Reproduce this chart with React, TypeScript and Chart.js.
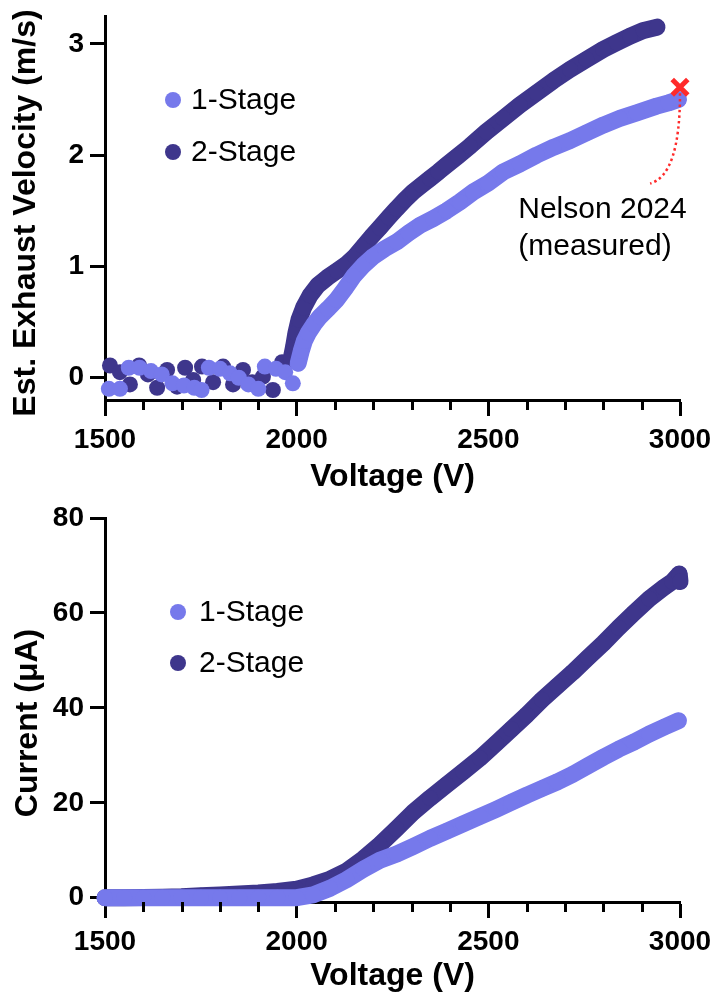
import { useEffect, useRef } from "react";
import { Chart, registerables } from "chart.js";

Chart.register(...registerables);

const FONT = '"Liberation Sans", Arial, Helvetica, sans-serif';
const LIGHT = "#7679EB";
const DARK = "#3E368C";
const RED = "#FF2A2A";

const seriesNames = ["1-Stage", "2-Stage"];
const xMajorTicks = [1500, 2000, 2500, 3000];
const xMinorTicks = [1600, 1700, 1800, 1900, 2100, 2200, 2300, 2400, 2600, 2700, 2800, 2900];
const velocityTicks = [0, 1, 2, 3];
const currentTicks = [0, 20, 40, 60, 80];

// Top panel: estimated exhaust velocity (m/s) vs voltage (V)
const velocity1Stage: [number, number][] = [
  [1510, -0.10], [1539, -0.10], [1562, 0.09], [1590, 0.09], [1620, 0.06], [1648, 0.03],
  [1676, -0.05], [1706, -0.07], [1733, -0.09], [1752, -0.11], [1771, 0.09], [1800, 0.08],
  [1826, 0.04], [1849, 0.00], [1874, -0.06], [1900, -0.10], [1917, 0.10], [1946, 0.08],
  [1970, 0.05], [1990, -0.05],
  [2004, 0.13], [2012, 0.24], [2020, 0.33], [2030, 0.40], [2045, 0.48], [2061, 0.55],
  [2082, 0.62], [2104, 0.70], [2126, 0.80], [2148, 0.91], [2174, 1.01], [2200, 1.09],
  [2230, 1.16], [2261, 1.22], [2292, 1.30], [2322, 1.37], [2356, 1.43], [2391, 1.50],
  [2426, 1.58], [2461, 1.67], [2500, 1.75], [2539, 1.85], [2582, 1.92], [2626, 2.00],
  [2670, 2.07], [2713, 2.13], [2756, 2.20], [2800, 2.27], [2843, 2.33], [2887, 2.38],
  [2939, 2.44], [2970, 2.47], [2996, 2.50],
];
const velocity2Stage: [number, number][] = [
  [1513, 0.11], [1539, 0.05], [1565, -0.06], [1589, 0.11], [1612, 0.03], [1636, -0.09],
  [1662, 0.07], [1688, -0.08], [1709, 0.09], [1730, -0.02], [1753, 0.10], [1782, -0.04],
  [1808, 0.10], [1834, -0.06], [1860, 0.07], [1884, -0.04], [1912, 0.01], [1938, -0.11],
  [1962, 0.14],
  [1985, 0.16], [1992, 0.28], [1998, 0.40], [2006, 0.52], [2018, 0.63], [2035, 0.74],
  [2055, 0.83], [2080, 0.90], [2105, 0.96], [2130, 1.02], [2152, 1.09], [2174, 1.18],
  [2196, 1.27], [2217, 1.35], [2240, 1.44], [2261, 1.52], [2283, 1.60], [2304, 1.67],
  [2326, 1.73], [2348, 1.79], [2370, 1.85], [2391, 1.91], [2420, 1.99], [2452, 2.08],
  [2495, 2.21], [2539, 2.33], [2582, 2.45], [2626, 2.56], [2670, 2.67], [2713, 2.77],
  [2756, 2.86], [2800, 2.95], [2835, 3.01], [2870, 3.07], [2905, 3.12], [2940, 3.15],
];
const nelson2024Measured: [number, number][] = [[3000, 2.61]];
const nelsonLabel = ["Nelson 2024", "(measured)"];

// Bottom panel: current (µA) vs voltage (V)
const current1Stage: [number, number][] = [
  [1500, 0], [1550, 0], [1600, 0], [1650, 0], [1700, 0], [1750, 0], [1800, 0], [1850, 0],
  [1900, 0], [1950, 0], [2000, 0], [2043, 0.6], [2087, 2.0], [2130, 3.8], [2174, 6.0],
  [2217, 7.9], [2261, 9.2], [2304, 10.8], [2348, 12.5], [2391, 14.0], [2435, 15.6],
  [2478, 17.1], [2520, 18.6], [2560, 20.1], [2600, 21.6], [2640, 23.0], [2680, 24.4],
  [2720, 26.0], [2760, 27.8], [2800, 29.6], [2840, 31.3], [2880, 32.8], [2920, 34.5],
  [2960, 36.0], [2996, 37.3],
];
const current2Stage: [number, number][] = [
  [1500, 0], [1550, 0], [1600, 0.05], [1650, 0.1], [1700, 0.2], [1750, 0.4], [1800, 0.6],
  [1850, 0.8], [1900, 1.0], [1950, 1.3], [2000, 1.8], [2043, 2.7], [2087, 3.9], [2130, 5.6],
  [2174, 8.2], [2217, 11.2], [2260, 14.5], [2304, 18.0], [2348, 21.0], [2391, 23.8],
  [2435, 26.6], [2478, 29.4], [2520, 32.5], [2560, 35.5], [2600, 38.5], [2640, 41.7],
  [2680, 44.6], [2720, 47.5], [2760, 50.6], [2800, 53.6], [2840, 56.9], [2880, 60.0],
  [2920, 63.0], [2957, 65.3], [2980, 66.6], [2998, 68.2], [3000, 66.6],
];

const toXY = (arr: [number, number][]) => arr.map(([x, y]) => ({ x, y }));

const minorTicksPlugin = {
  id: "minorTicks",
  afterDraw(chart: any) {
    const { ctx, chartArea } = chart;
    const xs = chart.scales.x;
    ctx.save();
    ctx.strokeStyle = "#000";
    ctx.lineWidth = 3;
    for (const v of xMinorTicks) {
      const px = Math.round(xs.getPixelForValue(v)) + 0.5;
      ctx.beginPath();
      ctx.moveTo(px, chartArea.bottom);
      ctx.lineTo(px, chartArea.bottom + 10);
      ctx.stroke();
    }
    ctx.restore();
  },
};

const yTitlePlugin = {
  id: "yTitle",
  afterDraw(chart: any, _args: any, opts: any) {
    const { ctx, chartArea } = chart;
    ctx.save();
    ctx.font = `bold 32px ${FONT}`;
    ctx.fillStyle = "#000";
    ctx.textAlign = "center";
    ctx.textBaseline = "alphabetic";
    ctx.translate(opts.x, (chartArea.top + chartArea.bottom) / 2 + opts.dy);
    ctx.rotate(-Math.PI / 2);
    ctx.fillText(opts.text, 0, 0);
    ctx.restore();
  },
};

const legendPlugin = {
  id: "innerLegend",
  afterDraw(chart: any, _args: any, opts: any) {
    const { ctx, chartArea } = chart;
    ctx.save();
    ctx.font = `30px ${FONT}`;
    ctx.textBaseline = "middle";
    ctx.textAlign = "left";
    seriesNames.forEach((name, i) => {
      const cy = chartArea.top + opts.top + i * opts.gap;
      const cx = chartArea.left + opts.left;
      ctx.fillStyle = i === 0 ? LIGHT : DARK;
      ctx.beginPath();
      ctx.arc(cx, cy, 8, 0, Math.PI * 2);
      ctx.fill();
      ctx.fillStyle = "#000";
      ctx.fillText(name, cx + opts.textGap, cy + 1);
    });
    ctx.restore();
  },
};

const annotationPlugin = {
  id: "nelsonNote",
  afterDatasetsDraw(chart: any, _args: any, opts: any) {
    if (!opts || !opts.enabled) return;
    const { ctx } = chart;
    const xs = chart.scales.x;
    const ys = chart.scales.y;
    const [mx, my] = nelson2024Measured[0];
    const sx = xs.getPixelForValue(mx);
    const sy = ys.getPixelForValue(my) + 6;
    const cx = sx;
    const cy = ys.getPixelForValue(1.82);
    const ex = xs.getPixelForValue(2922);
    const ey = ys.getPixelForValue(1.745);
    ctx.save();
    ctx.strokeStyle = RED;
    ctx.lineWidth = 2.5;
    ctx.setLineDash([2.5, 3]);
    ctx.beginPath();
    ctx.moveTo(sx, sy);
    ctx.quadraticCurveTo(cx, cy, ex, ey);
    ctx.stroke();
    ctx.setLineDash([]);
    ctx.font = `30px ${FONT}`;
    ctx.fillStyle = "#000";
    ctx.textAlign = "left";
    ctx.textBaseline = "middle";
    const tx = xs.getPixelForValue(2578);
    nelsonLabel.forEach((t, i) => ctx.fillText(t, tx, ey + 26 + i * 37));
    ctx.restore();
  },
};

function scatterSet(label: string, data: [number, number][], color: string, cut: number | null) {
  return {
    type: "line" as const,
    label,
    data: toXY(data),
    showLine: true,
    borderColor: color,
    backgroundColor: color,
    borderWidth: 17,
    borderJoinStyle: "round" as const,
    borderCapStyle: "round" as const,
    pointRadius: 8,
    pointBorderWidth: 0,
    pointBackgroundColor: color,
    tension: 0,
    clip: false as const,
    segment: cut === null ? undefined : {
      borderColor: (ctx: any) => (ctx.p0.parsed.x < cut ? "rgba(0,0,0,0)" : undefined),
    },
  };
}

function makeScales(yMin: number, yMax: number, yTicks: number[], xHeight: number, titlePadBottom: number) {
  const tickFont = { family: FONT, size: 28, weight: "bold" as const };
  return {
    x: {
      type: "linear" as const,
      min: 1500,
      max: 3000,
      border: { display: true, color: "#000", width: 3 },
      grid: { display: true, drawOnChartArea: false, drawTicks: true, tickLength: 16, tickWidth: 3, tickColor: "#000", color: "#000" },
      ticks: { font: tickFont, color: "#000", padding: 7, maxRotation: 0, autoSkip: false, callback: (v: any) => String(v) },
      afterBuildTicks: (s: any) => { s.ticks = xMajorTicks.map((v) => ({ value: v })); },
      afterFit: (s: any) => { s.height = xHeight; s.paddingLeft = 0; s.paddingRight = 0; },
      title: { display: true, text: "Voltage (V)", color: "#000", font: { family: FONT, size: 32, weight: "bold" as const }, padding: { top: 0, bottom: titlePadBottom } },
    },
    y: {
      type: "linear" as const,
      min: yMin,
      max: yMax,
      border: { display: true, color: "#000", width: 3 },
      grid: { display: true, drawOnChartArea: false, drawTicks: true, tickLength: 15, tickWidth: 3, tickColor: "#000", color: "#000" },
      ticks: { font: tickFont, color: "#000", padding: 6, autoSkip: false, callback: (v: any) => String(v) },
      afterBuildTicks: (s: any) => { s.ticks = yTicks.map((v) => ({ value: v })); },
      afterFit: (s: any) => { s.width = 105; s.paddingTop = 0; s.paddingBottom = 0; },
    },
  };
}

export default function App() {
  const topRef = useRef<HTMLCanvasElement>(null);
  const botRef = useRef<HTMLCanvasElement>(null);

  useEffect(() => {
    const top = new Chart(topRef.current as HTMLCanvasElement, {
      type: "line",
      data: {
        datasets: [
          {
            type: "line" as const,
            label: "Nelson 2024 (measured)",
            data: toXY(nelson2024Measured),
            showLine: false,
            pointStyle: "crossRot",
            pointRadius: 11,
            pointBorderWidth: 5,
            pointBorderColor: RED,
            borderColor: RED,
            clip: false as const,
            order: -1,
          } as any,
          scatterSet(seriesNames[0], velocity1Stage, LIGHT, 2000),
          scatterSet(seriesNames[1], velocity2Stage, DARK, 1980),
        ],
      },
      options: {
        responsive: false,
        animation: false,
        events: [],
        layout: { padding: { left: 0, right: 36, top: 15, bottom: 0 } },
        scales: makeScales(-0.2, 3.25, velocityTicks, 100, 4) as any,
        plugins: {
          legend: { display: false },
          tooltip: { enabled: false },
          yTitle: { text: "Est. Exhaust Velocity (m/s)", x: 35, dy: 5 },
          innerLegend: { left: 68, top: 84, gap: 52, textGap: 18 },
          nelsonNote: { enabled: true },
        } as any,
      },
      plugins: [minorTicksPlugin, yTitlePlugin, legendPlugin, annotationPlugin],
    });

    const bottom = new Chart(botRef.current as HTMLCanvasElement, {
      type: "line",
      data: {
        datasets: [
          scatterSet(seriesNames[0], current1Stage, LIGHT, null),
          scatterSet(seriesNames[1], current2Stage, DARK, null),
        ],
      },
      options: {
        responsive: false,
        animation: false,
        events: [],
        layout: { padding: { left: 0, right: 36, top: 18, bottom: 0 } },
        scales: makeScales(-0.9, 80, currentTicks, 94, 1) as any,
        plugins: {
          legend: { display: false },
          tooltip: { enabled: false },
          yTitle: { text: "Current (μA)", x: 36.7, dy: 13 },
          innerLegend: { left: 73, top: 94, gap: 51, textGap: 21 },
          nelsonNote: { enabled: false },
        } as any,
      },
      plugins: [minorTicksPlugin, yTitlePlugin, legendPlugin, annotationPlugin],
    });

    return () => {
      top.destroy();
      bottom.destroy();
    };
  }, []);

  return (
    <div style={{ position: "absolute", left: 0, top: 0, width: 716, height: 996, background: "#fff" }}>
      <canvas ref={topRef} width={716} height={500} style={{ display: "block", width: 716, height: 500 }} />
      <canvas ref={botRef} width={716} height={496} style={{ display: "block", width: 716, height: 496 }} />
    </div>
  );
}
